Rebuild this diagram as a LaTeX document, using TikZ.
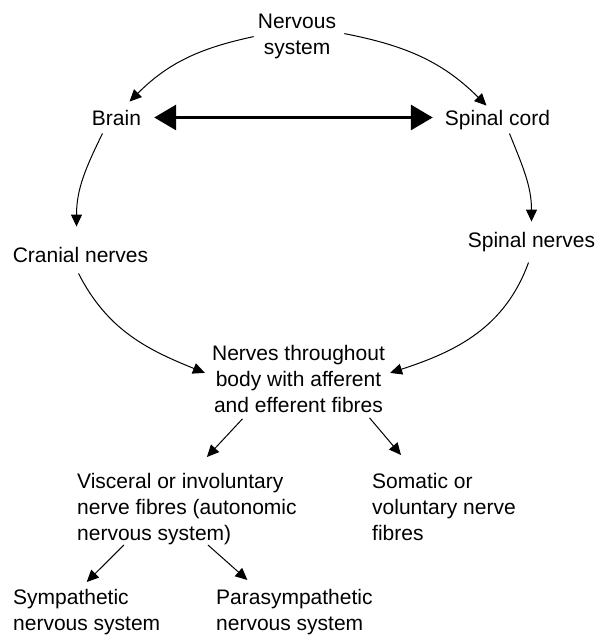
\documentclass[tikz,border=0pt]{standalone}
\usepackage{fontspec}
\setmainfont{Liberation Sans}
\usetikzlibrary{arrows.meta}
\tikzset{
  lbl/.style={inner sep=4pt,font=\fontsize{21}{26}\selectfont},
  arr/.style={-{Triangle[length=12pt,width=11pt]},line width=1pt},
  dbl/.style={{Triangle[length=22pt,width=25pt]}-{Triangle[length=22pt,width=25pt]},line width=3.2pt},
}
\begin{document}
\begin{tikzpicture}[x=1pt,y=-1pt]
%\draw[help lines] (0,0)grid(598,637);
\useasboundingbox (0,0) rectangle (598,637);
\node[lbl,align=center,anchor=north] (ns) at (297,10) {Nervous\\system};
\node[lbl,anchor=base] (brain) at (116.5,125) {Brain};
\node[lbl,anchor=base] (cord) at (497.5,125) {Spinal cord};
\node[lbl,anchor=base] (cran) at (80.5,262) {Cranial nerves};
\node[lbl,anchor=base] (spn) at (531.5,247) {Spinal nerves};
\node[lbl,align=center,anchor=north] (body) at (298.5,341) {Nerves throughout\\body with afferent\\and efferent fibres};
\node[lbl,align=left,anchor=north west] (visc) at (73,469) {Visceral or involuntary\\nerve fibres (autonomic\\nervous system)};
\node[lbl,align=left,anchor=north west] (soma) at (368,469) {Somatic or\\voluntary nerve\\fibres};
\node[lbl,align=left,anchor=north west] (symp) at (9,585) {Sympathetic\\nervous system};
\node[lbl,align=left,anchor=north west] (para) at (212,585) {Parasympathetic\\nervous system};
% upper half of the circle
\draw[arr,out=192,in=45](ns.west)to([xshift=13pt,yshift=4pt]brain.north);
\draw[arr,out=-11,in=135]([xshift=4pt,yshift=3pt]ns.east)to([xshift=-11pt]cord.north);
\draw[dbl]([xshift=9pt]brain.east)--([xshift=-8pt]brain.east-|cord.west);
\draw[arr,out=244,in=90]([xshift=-14pt,yshift=-4pt]brain.south)to([xshift=-4pt,yshift=16pt]cran.north);
\draw[arr,out=-68,in=90]([xshift=12pt]cord.south)to([yshift=6pt]spn.north);
% lower half of the circle
\draw[arr,out=-63,in=158]([xshift=-2pt,yshift=-7pt]cran.south)to([xshift=-3pt,yshift=6pt]body.west);
\draw[arr,out=-110,in=18]([xshift=-3pt,yshift=-7pt]spn.south)to([xshift=1pt,yshift=6pt]body.east);
% branches
\draw[arr]([xshift=-56pt,yshift=-2pt]body.south)--([xshift=20pt,yshift=12pt]visc.north);
\draw[arr]([xshift=71pt,yshift=-1pt]body.south)--([xshift=-43pt,yshift=14pt]soma.north);
\draw[arr]([xshift=-63pt,yshift=4pt]visc.south)--([yshift=3pt]symp.north);
\draw[arr]([xshift=21pt,yshift=4pt]visc.south)--([xshift=-47pt,yshift=5pt]para.north);
\end{tikzpicture}
\end{document}
